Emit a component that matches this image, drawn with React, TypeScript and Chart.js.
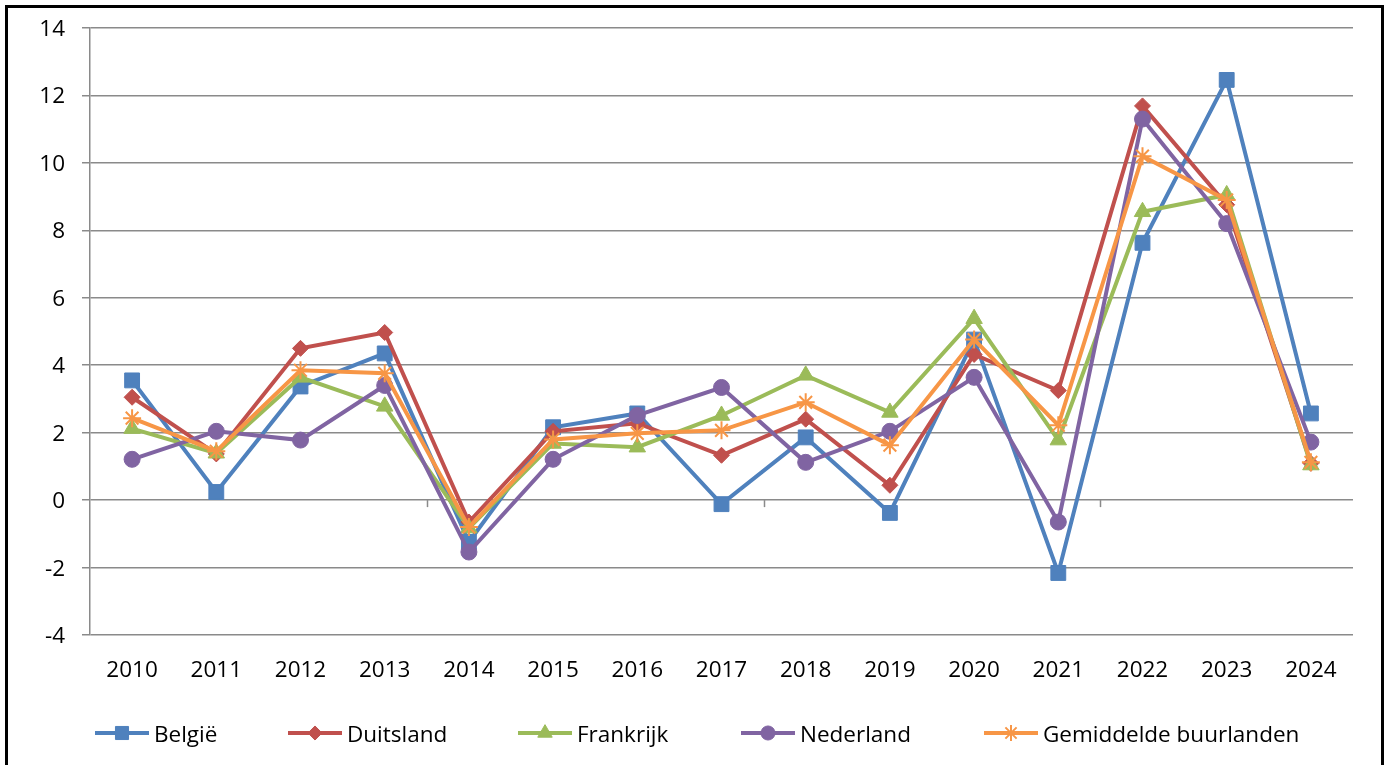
import React, { useEffect, useRef } from 'react';
import { Chart, registerables } from 'chart.js';
import { drawPoint } from 'chart.js/helpers';

Chart.register(...registerables);

const years = ['2010', '2011', '2012', '2013', '2014', '2015', '2016', '2017', '2018', '2019', '2020', '2021', '2022', '2023', '2024'];
const belgie = [3.55, 0.24, 3.37, 4.35, -1.24, 2.16, 2.57, -0.12, 1.86, -0.38, 4.76, -2.16, 7.63, 12.46, 2.57];
const duitsland = [3.05, 1.37, 4.5, 4.97, -0.65, 2.04, 2.28, 1.33, 2.4, 0.44, 4.32, 3.25, 11.69, 8.76, 1.09];
const frankrijk = [2.12, 1.39, 3.64, 2.78, -0.83, 1.68, 1.57, 2.51, 3.7, 2.6, 5.38, 1.78, 8.55, 9.05, 1.04];
const nederland = [1.21, 2.04, 1.78, 3.4, -1.54, 1.21, 2.51, 3.34, 1.12, 2.04, 3.64, -0.65, 11.3, 8.2, 1.72];
const gemiddelde = [2.43, 1.45, 3.85, 3.76, -0.8, 1.8, 1.98, 2.07, 2.9, 1.63, 4.76, 2.22, 10.2, 8.9, 1.12];
const seriesNames = ['België', 'Duitsland', 'Frankrijk', 'Nederland', 'Gemiddelde buurlanden'];
const yMin = -4;
const yMax = 14;
const yStep = 2;

const FONT = "'Open Sans', 'Noto Sans', sans-serif";
const FONT_SIZE = 22.5;
const GRID = '#8a8a8a';

const styles = [
  { color: '#4F81BD', point: 'rect', radius: 10.5, bw: 1 },
  { color: '#C0504D', point: 'rectRot', radius: 8, bw: 1 },
  { color: '#9BBB59', point: 'triangle', radius: 9.5, bw: 1 },
  { color: '#8064A2', point: 'circle', radius: 8, bw: 1 },
  { color: '#F79646', point: 'star', radius: 9, bw: 2 },
];

const legendX = [95, 288, 518, 741, 984];

function drawText(ctx: CanvasRenderingContext2D, text: string, x: number, y: number, align: 'left' | 'right' | 'center') {
  ctx.save();
  ctx.font = `${FONT_SIZE}px ${FONT}`;
  ctx.fillStyle = '#000';
  ctx.textBaseline = 'alphabetic';
  ctx.textAlign = align;
  ctx.fillText(text, x, y);
  ctx.restore();
}

const extrasPlugin = {
  id: 'extras',
  beforeDatasetsDraw(chart: any) {
    const { ctx, scales } = chart;
    const x = scales.x;
    const y = scales.y;
    const y0 = y.getPixelForValue(0);
    ctx.save();
    ctx.strokeStyle = GRID;
    ctx.lineWidth = 1.5;
    [3.5, 7.5, 11.5].forEach((v) => {
      const px = Math.round(x.getPixelForValue(v)) + 0.5;
      ctx.beginPath();
      ctx.moveTo(px, y0);
      ctx.lineTo(px, y0 + 7);
      ctx.stroke();
    });
    ctx.restore();
    y.ticks.forEach((t: any) => {
      const py = y.getPixelForValue(t.value);
      drawText(ctx, String(t.value), y.left + y.width - 25, py + 8, 'right');
    });
    x.ticks.forEach((t: any, i: number) => {
      const px = x.getPixelForTick(i);
      drawText(ctx, String(chart.data.labels[t.value]), px, y.bottom + 42, 'center');
    });
  },
  afterDraw(chart: any) {
    const { ctx } = chart;
    const cy = 733;
    ctx.save();
    chart.data.datasets.forEach((ds: any, i: number) => {
      const st = styles[i];
      const x0 = legendX[i];
      ctx.strokeStyle = st.color;
      ctx.lineWidth = 4;
      ctx.beginPath();
      ctx.moveTo(x0, cy);
      ctx.lineTo(x0 + 54, cy);
      ctx.stroke();
      ctx.fillStyle = st.color;
      ctx.strokeStyle = st.color;
      ctx.lineWidth = st.bw;
      drawPoint(ctx, { pointStyle: st.point, radius: st.radius * 0.88, rotation: 0, borderWidth: st.bw }, x0 + 27, cy);
      drawText(ctx, ds.label, x0 + 59, cy + 9, 'left');
    });
    ctx.restore();
  },
};

export default function App() {
  const ref = useRef<HTMLCanvasElement | null>(null);
  useEffect(() => {
    if (!ref.current) return;
    const values = [belgie, duitsland, frankrijk, nederland, gemiddelde];
    const chart = new Chart(ref.current, {
      type: 'line',
      data: {
        labels: years,
        datasets: values.map((v, i) => ({
          label: seriesNames[i],
          data: v,
          borderColor: styles[i].color,
          backgroundColor: styles[i].color,
          borderWidth: 4,
          pointStyle: styles[i].point as any,
          pointRadius: styles[i].radius,
          pointBorderWidth: styles[i].bw,
          pointBackgroundColor: styles[i].color,
          pointBorderColor: styles[i].color,
          tension: 0,
          fill: false,
          order: values.length - i,
        })),
      },
      options: {
        animation: false,
        responsive: false,
        maintainAspectRatio: false,
        layout: { padding: { left: 0, right: 36, top: 28, bottom: 0 } },
        plugins: {
          legend: { display: false },
          tooltip: { enabled: false },
        },
        scales: {
          x: {
            offset: true,
            grid: { display: false, drawTicks: false },
            border: { display: false },
            ticks: { display: false, autoSkip: false, maxRotation: 0 },
            afterFit: (s: any) => {
              s.height = 130;
            },
          },
          y: {
            min: yMin,
            max: yMax,
            grid: { color: GRID, lineWidth: 1.5, tickLength: 8, drawTicks: true },
            border: { display: true, color: GRID, width: 1.5 },
            ticks: { display: false, stepSize: yStep },
            afterFit: (s: any) => {
              s.width = 90;
            },
          },
        },
      },
      plugins: [extrasPlugin],
    });
    return () => chart.destroy();
  }, []);

  return (
    <div style={{ position: 'fixed', left: 0, top: 0, width: 1389, height: 765, overflow: 'hidden', background: '#fff' }}>
      <canvas ref={ref} width={1389} height={765} style={{ position: 'absolute', left: 0, top: 0, width: 1389, height: 765 }} />
      <div
        style={{
          position: 'absolute',
          left: 5,
          top: 5,
          width: 1379,
          height: 900,
          border: '3px solid #000',
          boxSizing: 'border-box',
          pointerEvents: 'none',
        }}
      />
    </div>
  );
}
